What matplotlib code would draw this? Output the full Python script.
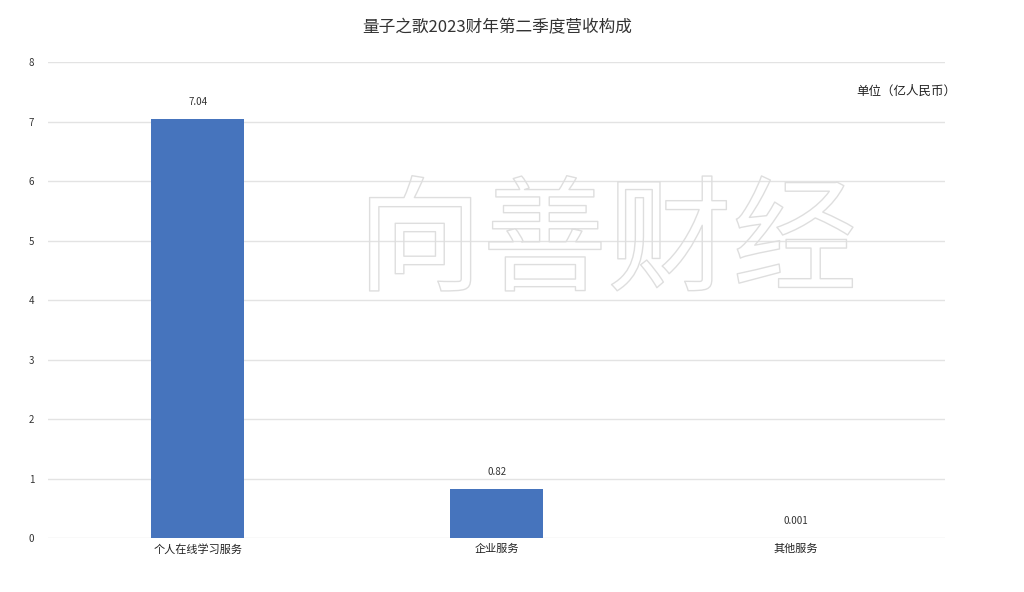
import matplotlib
matplotlib.use("Agg")
import matplotlib.pyplot as plt
import matplotlib.patheffects as pe

plt.rcParams["font.family"] = ["Noto Sans CJK SC", "DejaVu Sans"]

categories = ["个人在线学习服务", "企业服务", "其他服务"]
revenue = [7.04, 0.82, 0.001]
value_labels = ["7.04", "0.82", "0.001"]
y_ticks = [0, 1, 2, 3, 4, 5, 6, 7, 8]

fig = plt.figure(figsize=(10.24, 5.92), dpi=100)
ax = fig.add_axes([0.047, 0.091, 0.876, 0.804])

x = range(len(categories))
bars = ax.bar(x, revenue, width=0.31, color="#4674BD", zorder=3)
for bar, lab in zip(bars, value_labels):
    ax.text(bar.get_x() + bar.get_width() / 2, bar.get_height() + 0.2, lab,
            ha="center", va="bottom", fontsize=7, color="#333333")

ax.set_xlim(-0.5, len(categories) - 0.5)
ax.set_ylim(0, 8)
ax.set_yticks(y_ticks)
ax.set_xticks(list(x))
ax.set_xticklabels(categories, fontsize=8, color="#222222")
ax.tick_params(axis="y", labelsize=7, colors="#333333", length=0, pad=10)
ax.tick_params(axis="x", length=0, pad=4)
ax.grid(axis="y", color="#e3e3e3", linewidth=1, zorder=0)
for s in ax.spines.values():
    s.set_visible(False)

fig.text(0.486, 0.953, "量子之歌2023财年第二季度营收构成", ha="center", va="center",
         fontsize=12, color="#333333")
fig.text(0.885, 0.845, "单位（亿人民币）", ha="center", va="center",
         fontsize=9, color="#222222")
# hollow watermark: outline only
fig.text(0.593, 0.585, "向善财经", ha="center", va="center", fontsize=90,
         fontweight="light", color="none", zorder=1,
         path_effects=[pe.Stroke(linewidth=1.0, foreground="#dedede")])

fig.savefig("out.png", dpi=100, facecolor="white")
